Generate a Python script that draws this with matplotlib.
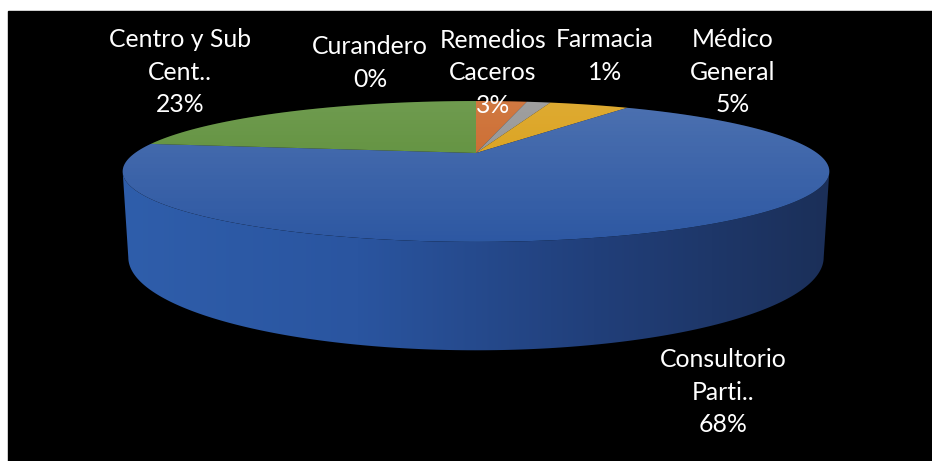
import numpy as np
import matplotlib
matplotlib.use("Agg")
import matplotlib.pyplot as plt
from matplotlib.patches import Polygon, Rectangle
from matplotlib.colors import LinearSegmentedColormap

# data, in clockwise order from 12 o'clock
labels = ["Curandero", "Remedios\nCaceros", "Farmacia", "Médico\nGeneral",
          "Consultorio\nParti..", "Centro y Sub\nCent.."]
values = [0.0, 3.0, 1.4, 4.7, 68.2, 22.7]
colors = ["#5B9BD5", "#C8601F", "#8E8E8E", "#D89B0C", "#2C57A2", "#55892F"]

# where Excel put the labels (centre of the text block, pixels)
label_pos = [(370, 63), (493, 73), (605, 56), (733, 72), (723, 392), (180, 72)]

W, H = 932, 461
cx, cy = 476, 153          # apex of the pie
A, B = 341, 65.6           # radii before perspective
k = 0.262                  # perspective strength
depth = 80                 # thickness of the pie

def proj(theta, z=0.0):
    u, v = np.sin(theta), np.cos(theta)
    d = 1 + k * v
    s = 1 - 0.016 * z
    return cx + A * u * s / d, cy + (-B * v + depth * z) / d

fig = plt.figure(figsize=(W / 100, H / 100), dpi=100)
ax = fig.add_axes([0, 0, 1, 1])
ax.set_xlim(0, W)
ax.set_ylim(H, 0)
ax.axis("off")
ax.add_patch(Rectangle((8, 11), W - 8, H - 11, color="black", zorder=0))

# side wall (front part only is visible)
t_edge = np.arcsin(k)
ts = np.linspace(np.pi / 2 + t_edge, 3 * np.pi / 2 - t_edge, 200)
xt, yt = proj(ts, 0)
xb, yb = proj(ts[::-1], 1)
side = Polygon(np.column_stack([np.r_[xt, xb], np.r_[yt, yb]]),
               closed=True, facecolor="none", edgecolor="none", zorder=1)
ax.add_patch(side)
side_cmap = LinearSegmentedColormap.from_list(
    "side", ["#2F5EAB", "#2A55A0", "#213F7A", "#1B2F58"])
grad = np.linspace(0, 1, 256)[None, :]
im = ax.imshow(grad, cmap=side_cmap, extent=(120, 832, 360, 160),
               aspect="auto", zorder=1)
im.set_clip_path(side)

# top face slices
cum = np.r_[0, np.cumsum(values)] / np.sum(values) * 2 * np.pi
for i, val in enumerate(values):
    if val <= 0:
        continue
    th = np.linspace(cum[i], cum[i + 1], max(int(val * 6), 3))
    px, py = proj(th, 0)
    poly = np.column_stack([np.r_[cx, px], np.r_[cy, py]])
    ax.add_patch(Polygon(poly, closed=True, facecolor=colors[i],
                         edgecolor="none", zorder=2))

# soft light on the back part of the top face
tt = np.linspace(0, 2 * np.pi, 400)
ex, ey = proj(tt, 0)
top = Polygon(np.column_stack([ex, ey]), closed=True, facecolor="none",
              edgecolor="none", zorder=3)
ax.add_patch(top)
light = np.zeros((256, 1, 4))
light[:, 0, :3] = 1
light[:, 0, 3] = np.linspace(0.16, 0.0, 256)
im2 = ax.imshow(light, extent=(110, 840, 250, 98), aspect="auto", zorder=3)
im2.set_clip_path(top)

# labels
for i, (lab, val) in enumerate(zip(labels, values)):
    lines = lab.split("\n") + ["%d%%" % round(val)]
    x0, yc = label_pos[i]
    n = len(lines)
    for j, line in enumerate(lines):
        y = yc + (j - (n - 1) / 2) * 32.5
        ax.text(x0, y, line, color="white", fontsize=17.8, family="Lato",
                ha="center", va="center", zorder=5)

fig.savefig("out.png", dpi=100, facecolor="white")
